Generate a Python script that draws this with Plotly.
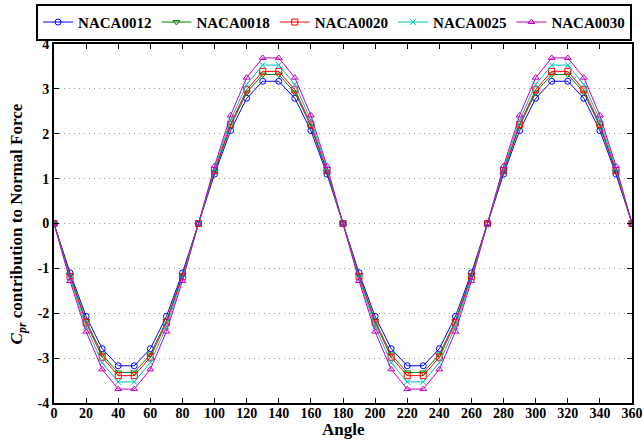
import plotly.graph_objects as go

angle = list(range(0, 361, 10))

naca0012 = [0, -1.10, -2.07, -2.79, -3.17, -3.17, -2.79, -2.07, -1.10,
            0, 1.10, 2.07, 2.79, 3.17, 3.17, 2.79, 2.07, 1.10,
            0, -1.10, -2.07, -2.79, -3.17, -3.17, -2.79, -2.07, -1.10,
            0, 1.10, 2.07, 2.79, 3.17, 3.17, 2.79, 2.07, 1.10, 0]
naca0018 = [0, -1.15, -2.17, -2.92, -3.32, -3.32, -2.92, -2.17, -1.15,
            0, 1.15, 2.17, 2.92, 3.32, 3.32, 2.92, 2.17, 1.15,
            0, -1.15, -2.17, -2.92, -3.32, -3.32, -2.92, -2.17, -1.15,
            0, 1.15, 2.17, 2.92, 3.32, 3.32, 2.92, 2.17, 1.15, 0]
naca0020 = [0, -1.18, -2.21, -2.98, -3.39, -3.39, -2.98, -2.21, -1.18,
            0, 1.18, 2.21, 2.98, 3.39, 3.39, 2.98, 2.21, 1.18,
            0, -1.18, -2.21, -2.98, -3.39, -3.39, -2.98, -2.21, -1.18,
            0, 1.18, 2.21, 2.98, 3.39, 3.39, 2.98, 2.21, 1.18, 0]
naca0025 = [0, -1.22, -2.30, -3.10, -3.53, -3.53, -3.10, -2.30, -1.22,
            0, 1.22, 2.30, 3.10, 3.53, 3.53, 3.10, 2.30, 1.22,
            0, -1.22, -2.30, -3.10, -3.53, -3.53, -3.10, -2.30, -1.22,
            0, 1.22, 2.30, 3.10, 3.53, 3.53, 3.10, 2.30, 1.22, 0]
naca0030 = [0, -1.28, -2.41, -3.25, -3.69, -3.69, -3.25, -2.41, -1.28,
            0, 1.28, 2.41, 3.25, 3.69, 3.69, 3.25, 2.41, 1.28,
            0, -1.28, -2.41, -3.25, -3.69, -3.69, -3.25, -2.41, -1.28,
            0, 1.28, 2.41, 3.25, 3.69, 3.69, 3.25, 2.41, 1.28, 0]

series_names = ["NACA0012", "NACA0018", "NACA0020", "NACA0025", "NACA0030"]
x_ticks = list(range(0, 361, 20))
y_ticks = list(range(-4, 5))

styles = [
    ("#0000ff", "circle-open"),
    ("#008000", "triangle-down-open"),
    ("#ff0000", "square-open"),
    ("#00bfbf", "x-thin-open"),
    ("#bf00bf", "triangle-up-open"),
]

FONT = "Liberation Serif"

fig = go.Figure()
for name, ys, (color, sym) in zip(series_names,
                                  [naca0012, naca0018, naca0020, naca0025, naca0030],
                                  styles):
    fig.add_trace(go.Scatter(
        x=angle, y=ys, name="<b>%s</b>" % name, mode="lines+markers",
        line=dict(color=color, width=1),
        marker=dict(symbol=sym, size=6, color=color, line=dict(color=color, width=1)),
    ))

fig.update_layout(
    width=644, height=440,
    margin=dict(l=54, r=12, t=44, b=37, autoexpand=False),
    paper_bgcolor="white", plot_bgcolor="white",
    font=dict(family=FONT, size=14, color="black"),
    showlegend=True,
    legend=dict(
        orientation="h", x=-0.031, xanchor="left", y=1.112, yanchor="top",
        bordercolor="black", borderwidth=2, bgcolor="white",
        font=dict(family=FONT, size=15, color="black"),
        tracegroupgap=0,
    ),
    annotations=[
        dict(text="<b>Angle</b>", xref="paper", yref="paper", x=0.5, y=-0.103,
             xanchor="center", yanchor="bottom", showarrow=False, borderpad=0,
             font=dict(family=FONT, size=17, color="black")),
        dict(text="<b><i>C<sub>pr</sub></i> contribution to Normal Force</b>",
             xref="paper", yref="paper", x=-0.040, y=0.5, textangle=-90,
             xanchor="right", yanchor="middle", showarrow=False,
             font=dict(family=FONT, size=17, color="black")),
    ],
)

fig.update_xaxes(
    range=[0, 360], tickmode="array", tickvals=x_ticks,
    ticktext=["<b>%d</b>" % v for v in x_ticks],
    ticks="inside", ticklen=5, tickwidth=1, tickcolor="black",
    showline=True, linecolor="black", linewidth=2, mirror="ticks",
    showgrid=False, zeroline=False, automargin=False,
    ticklabelstandoff=-4,
    tickfont=dict(family=FONT, size=14),
)
fig.update_yaxes(
    range=[-4, 4], tickmode="array", tickvals=y_ticks,
    ticktext=["<b>%d</b>" % v for v in y_ticks],
    ticks="inside", ticklen=5, tickwidth=1, tickcolor="black",
    showline=True, linecolor="black", linewidth=2, mirror="ticks",
    showgrid=True, gridcolor="#999999", griddash="1px,4px", gridwidth=1,
    zeroline=False, automargin=False,
    tickfont=dict(family=FONT, size=14),
)

fig.write_html("out.html")
